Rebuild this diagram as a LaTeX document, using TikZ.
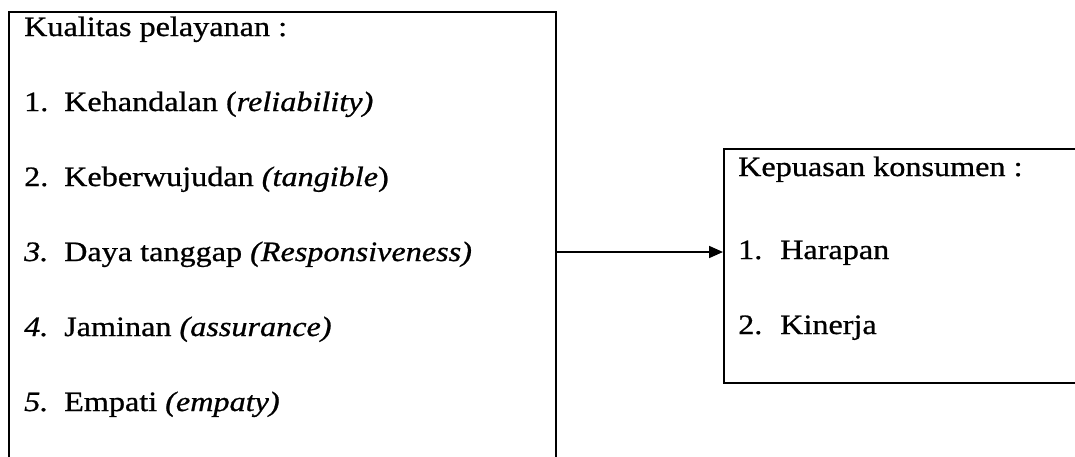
\documentclass[tikz,border=0pt]{standalone}
\usepackage{fontspec}
\setmainfont[FakeStretch=1.15,FakeBold=0.8]{Liberation Serif}
\usetikzlibrary{arrows.meta}
\begin{document}
\begin{tikzpicture}[x=1pt,y=-1pt,
  txt/.style={anchor=base west,inner sep=0pt,font=\fontsize{28}{30}\selectfont},
  frame/.style={draw=black,line width=2pt,inner sep=0pt,anchor=north west},
  conn/.style={line width=1.7pt,-{Triangle[length=14pt,width=12pt]}}]
\useasboundingbox (0,0) rectangle (1075,456);
\clip (0,0) rectangle (1075,456);
\fill[white] (0,0) rectangle (1075,456);
% boxes
\node[frame,minimum width=547pt,minimum height=470pt] (lb) at (8,11) {};
\node[frame,minimum width=370pt,minimum height=234pt] (rb) at (723,148) {};
% left texts
\node[txt] (lh) at (24,36) {Kualitas pelayanan :};
\node[txt] (ln1) at (24,111) {1.};
\node[txt] (lt1) at (64,111) {Kehandalan (\textit{reliability)}};
\node[txt] (ln2) at (24,186) {2.};
\node[txt] (lt2) at (64,186) {Keberwujudan \textit{(tangible})};
\node[txt] (ln3) at (24,261) {\textit{3.}};
\node[txt] (lt3) at (64,261) {Daya tanggap \textit{(Responsiveness)}};
\node[txt] (ln4) at (24,336) {\textit{4.}};
\node[txt] (lt4) at (64,336) {Jaminan \textit{(assurance)}};
\node[txt] (ln5) at (24,411) {\textit{5.}};
\node[txt] (lt5) at (64,411) {Empati \textit{(empaty)}};
% right texts
\node[txt] (rh) at (738,176) {Kepuasan konsumen :};
\node[txt] (rn1) at (738,259) {1.};
\node[txt] (rt1) at (780,259) {Harapan};
\node[txt] (rn2) at (738,334) {2.};
\node[txt] (rt2) at (780,334) {Kinerja};
% arrow
\coordinate (ay) at (0,252);
\draw[conn] (lb.east |- ay) -- (rb.west |- ay);
\end{tikzpicture}
\end{document}
